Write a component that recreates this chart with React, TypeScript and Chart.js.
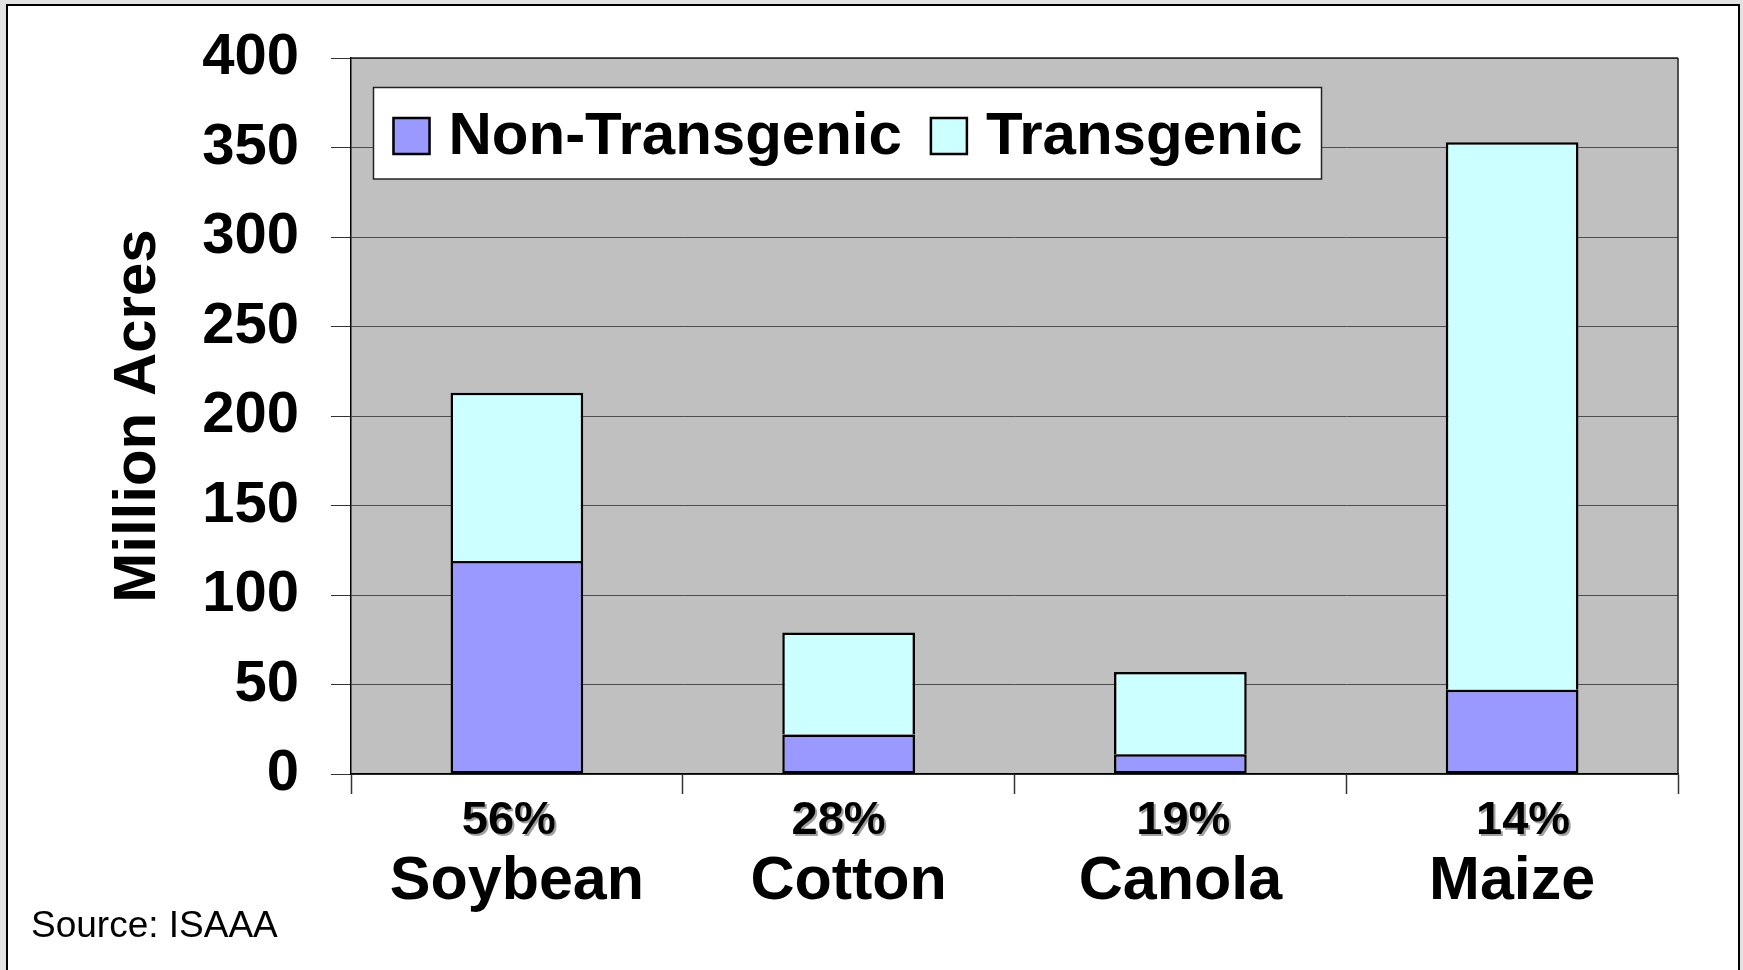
import React, { useEffect, useRef } from "react";
import { Chart, registerables } from "chart.js";

Chart.register(...registerables);

// ---- data ----
const categories = ["Soybean", "Cotton", "Canola", "Maize"];
const percentLabels = ["56%", "28%", "19%", "14%"];
const nonTransgenic = [119, 22, 11, 47];
const transgenic = [94, 57, 46, 306];
const seriesNames = ["Non-Transgenic", "Transgenic"];
const yMin = 0;
const yMax = 400;
const yStep = 50;
const yTitle = "Million Acres";
const sourceNote = "Source: ISAAA";

// small horizontal nudges of the percentage text boxes (px)
const percentNudge = [-8, -10, 3, 11];

const FONT = '"Liberation Sans", Arial, Helvetica, sans-serif';
const W = 1743;
const H = 970;

const plotBackground = {
  id: "plotBackground",
  beforeDraw(chart: any) {
    const { ctx, chartArea: a } = chart;
    ctx.save();
    ctx.fillStyle = "#C0C0C0";
    ctx.fillRect(a.left, a.top, a.right - a.left, a.bottom - a.top);
    ctx.restore();
  },
  beforeDatasetsDraw(chart: any) {
    const { ctx, chartArea: a } = chart;
    ctx.save();
    ctx.strokeStyle = "#222";
    ctx.lineWidth = 1.5;
    ctx.beginPath();
    ctx.moveTo(a.right, a.top);
    ctx.lineTo(a.right, a.bottom);
    ctx.moveTo(a.left, a.top);
    ctx.lineTo(a.right, a.top);
    ctx.stroke();
    ctx.restore();
  },
};

const extras = {
  id: "extras",
  afterDraw(chart: any) {
    const { ctx } = chart;
    const xs = chart.scales.x;
    // percentage labels with shadow
    ctx.save();
    ctx.font = `bold 47px ${FONT}`;
    ctx.textAlign = "center";
    ctx.textBaseline = "alphabetic";
    ctx.fillStyle = "#000";
    ctx.shadowColor = "rgba(150,150,150,0.9)";
    ctx.shadowOffsetX = 2;
    ctx.shadowOffsetY = 2;
    ctx.shadowBlur = 0;
    percentLabels.forEach((p, i) => {
      ctx.fillText(p, xs.getPixelForValue(i) + percentNudge[i], 834);
    });
    ctx.restore();

    // source note
    ctx.save();
    ctx.font = `37px ${FONT}`;
    ctx.textAlign = "left";
    ctx.textBaseline = "alphabetic";
    ctx.fillStyle = "#000";
    ctx.fillText(sourceNote, 31, 937);
    ctx.restore();

    // legend box
    ctx.save();
    const bx = 373.5, by = 87.5, bw = 948, bh = 91.5;
    ctx.fillStyle = "#fff";
    ctx.fillRect(bx, by, bw, bh);
    ctx.strokeStyle = "#222";
    ctx.lineWidth = 1.5;
    ctx.strokeRect(bx, by, bw, bh);
    ctx.font = `bold 60px ${FONT}`;
    ctx.textBaseline = "alphabetic";
    ctx.textAlign = "left";
    let x = 392.5;
    chart.data.datasets.forEach((ds: any) => {
      ctx.fillStyle = ds.backgroundColor;
      ctx.fillRect(x, 117, 38, 38);
      ctx.strokeStyle = "#000";
      ctx.lineWidth = 2.5;
      ctx.strokeRect(x + 1, 118, 36, 36);
      ctx.fillStyle = "#000";
      const tx = x + 56;
      ctx.fillText(ds.label, tx, 154);
      x = tx + ctx.measureText(ds.label).width + 28;
    });
    ctx.restore();
  },
};

export default function App() {
  const ref = useRef<HTMLCanvasElement | null>(null);

  useEffect(() => {
    if (!ref.current) return;
    const chart = new Chart(ref.current, {
      type: "bar",
      data: {
        labels: categories,
        datasets: [
          {
            label: seriesNames[0],
            data: nonTransgenic,
            backgroundColor: "#9999FF",
            borderColor: "#000",
            borderWidth: 2.5,
            borderSkipped: false,
            barPercentage: 0.4,
            categoryPercentage: 1.0,
          },
          {
            label: seriesNames[1],
            data: transgenic,
            backgroundColor: "#CCFFFF",
            borderColor: "#000",
            borderWidth: 2.5,
            borderSkipped: "bottom",
            barPercentage: 0.4,
            categoryPercentage: 1.0,
          },
        ],
      },
      options: {
        animation: false,
        responsive: false,
        devicePixelRatio: 1,
        layout: { padding: { left: 0, right: 65, top: 58, bottom: 0 } },
        plugins: {
          legend: { display: false },
          tooltip: { enabled: false },
          title: { display: false },
        },
        scales: {
          x: {
            stacked: true,
            grid: {
              display: true,
              drawOnChartArea: false,
              drawTicks: true,
              tickLength: 20,
              tickColor: "#333",
              tickWidth: 1.5,
              offset: true,
            },
            border: { display: true, color: "#000", width: 1.5 },
            ticks: {
              font: { family: FONT, size: 61, weight: "bold" },
              color: "#000",
              padding: 52,
              maxRotation: 0,
              autoSkip: false,
            },
            afterFit: (s: any) => {
              s.height = 196;
              s.paddingLeft = 0;
              s.paddingRight = 0;
            },
          },
          y: {
            stacked: true,
            min: yMin,
            max: yMax,
            ticks: {
              stepSize: yStep,
              font: { family: FONT, size: 58, weight: "bold" },
              color: "#000",
              padding: 32,
            },
            grid: {
              color: "#4d4d4d",
              lineWidth: 1,
              tickLength: 20,
              tickColor: "#333",
            },
            border: { display: true, color: "#000", width: 1.5 },
            title: {
              display: true,
              text: yTitle,
              font: { family: FONT, size: 60, weight: "bold" },
              color: "#000",
              padding: { top: 102, bottom: 0 },
            },
            afterFit: (s: any) => {
              s.width = 351;
              s.paddingTop = 0;
              s.paddingBottom = 0;
            },
          },
        },
      },
      plugins: [plotBackground, extras],
    });
    return () => chart.destroy();
  }, []);

  return (
    <div
      style={{
        position: "absolute",
        left: 0,
        top: 0,
        width: W,
        height: H,
        overflow: "hidden",
        background: "#e2e2e2",
      }}
    >
      <div
        style={{
          position: "absolute",
          left: 6,
          top: 4,
          width: 1734,
          height: 1000,
          background: "#fff",
          border: "2px solid #000",
          boxSizing: "border-box",
        }}
      />
      <canvas
        ref={ref}
        width={W}
        height={H}
        style={{ position: "absolute", left: 0, top: 0, width: W, height: H }}
      />
    </div>
  );
}
